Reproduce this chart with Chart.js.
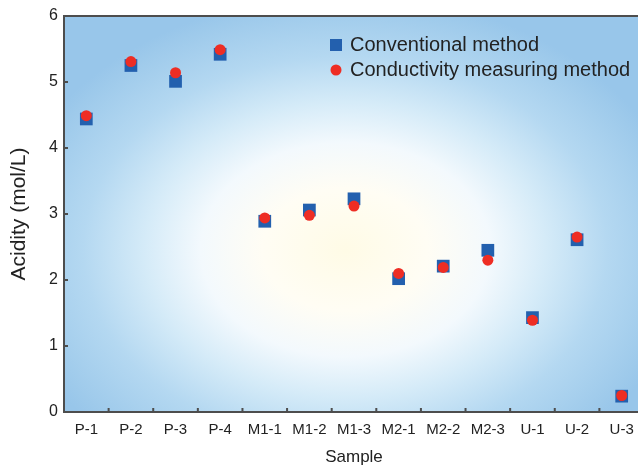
<!DOCTYPE html>
<html>
<head>
<meta charset="utf-8">
<script src="https://cdn.jsdelivr.net/npm/chart.js@4.4.1/dist/chart.umd.min.js"></script>
<style>
  html, body { margin: 0; padding: 0; overflow: hidden; background: #fff; }
</style>
</head>
<body>
<canvas id="chart" width="644" height="469"></canvas>
<script>
const samples = ["P-1", "P-2", "P-3", "P-4", "M1-1", "M1-2", "M1-3", "M2-1", "M2-2", "M2-3", "U-1", "U-2", "U-3"];
const conventional = [4.44, 5.25, 5.01, 5.42, 2.89, 3.06, 3.23, 2.02, 2.21, 2.45, 1.43, 2.61, 0.24];
const conductivity = [4.49, 5.31, 5.14, 5.49, 2.94, 2.98, 3.12, 2.10, 2.19, 2.30, 1.39, 2.65, 0.25];
const yMin = 0, yMax = 6, yStep = 1;

const FONT = "'Liberation Sans', Arial, Helvetica, sans-serif";
const AXIS = "#4d4d4d";
const TEXT = "#222";

// soft blue fill with a pale, slightly warm centre
const backdrop = {
  id: "backdrop",
  beforeDraw(chart) {
    const { ctx, chartArea: a } = chart;
    const cx = a.left + a.width * 0.485, cy = a.top + a.height * 0.59;
    const rx = 345, ry = 255;
    const stops = [[0, "#fffbe6"], [0.24, "#fffdf4"], [0.42, "#f3f9fd"], [0.58, "#d5ebf8"],
                   [0.76, "#b4d8f1"], [0.95, "#9ecaeb"], [1, "#98c6ea"]];
    ctx.save();
    ctx.beginPath();
    ctx.rect(a.left, a.top, a.width, a.height);
    ctx.clip();
    ctx.translate(cx, cy);
    ctx.scale(1, ry / rx);
    const g = ctx.createRadialGradient(0, 0, 0, 0, 0, rx);
    stops.forEach(s => g.addColorStop(s[0], s[1]));
    ctx.fillStyle = g;
    ctx.fillRect(-800, -800, 1600, 1600);
    ctx.restore();
  }
};

// top frame line and the small inward tick marks
const frame = {
  id: "frame",
  afterDraw(chart) {
    const { ctx, chartArea: a, scales: { x, y } } = chart;
    ctx.save();
    ctx.strokeStyle = AXIS;
    ctx.lineWidth = 2;
    ctx.beginPath();
    ctx.moveTo(a.left - 1, a.top);
    ctx.lineTo(a.right, a.top);
    y.ticks.forEach(t => {
      const py = y.getPixelForValue(t.value);
      ctx.moveTo(a.left, py);
      ctx.lineTo(a.left + 4, py);
    });
    for (let i = 1; i < samples.length; i++) {
      const px = (x.getPixelForValue(i - 1) + x.getPixelForValue(i)) / 2;
      ctx.moveTo(px, a.bottom);
      ctx.lineTo(px, a.bottom - 4);
    }
    ctx.stroke();
    ctx.restore();
  }
};

// legend drawn inside the plot, top right
const keyBox = {
  id: "keyBox",
  afterDraw(chart) {
    const { ctx } = chart;
    const sets = chart.data.datasets;
    ctx.save();
    ctx.font = "20px " + FONT;
    ctx.textBaseline = "middle";
    sets.forEach((ds, i) => {
      const yy = 45 + i * 25;
      ctx.fillStyle = ds.backgroundColor;
      if (ds.pointStyle === "rect") {
        ctx.fillRect(330, yy - 6, 12, 12);
      } else {
        ctx.beginPath();
        ctx.arc(336, yy, 5.5, 0, Math.PI * 2);
        ctx.fill();
      }
      ctx.fillStyle = TEXT;
      ctx.fillText(ds.label, 350, yy);
    });
    ctx.restore();
  }
};

new Chart(document.getElementById("chart"), {
  type: "line",
  data: {
    labels: samples,
    datasets: [
      {
        label: "Conventional method",
        data: conventional,
        showLine: false,
        pointStyle: "rect",
        pointRadius: 9,
        borderWidth: 0,
        backgroundColor: "#2360ae",
        order: 2
      },
      {
        label: "Conductivity measuring method",
        data: conductivity,
        showLine: false,
        pointStyle: "circle",
        pointRadius: 5.5,
        borderWidth: 0,
        backgroundColor: "#ee2d24",
        order: 1
      }
    ]
  },
  options: {
    responsive: false,
    animation: false,
    events: [],
    layout: { autoPadding: false, padding: { top: 16, right: 0, left: 0, bottom: 0 } },
    plugins: {
      legend: { display: false },
      tooltip: { enabled: false }
    },
    scales: {
      x: {
        type: "category",
        offset: true,
        grid: { drawOnChartArea: false, drawTicks: false },
        border: { color: AXIS, width: 2 },
        ticks: {
          color: TEXT, padding: 9, autoSkip: false, maxRotation: 0,
          font: { family: FONT, size: 15 }
        },
        title: {
          display: true, text: "Sample", color: TEXT,
          font: { family: FONT, size: 17 }, padding: { top: 0, bottom: 1 }
        },
        afterFit(s) { s.height = 57; s.paddingLeft = 0; s.paddingRight = 0; }
      },
      y: {
        min: yMin,
        max: yMax,
        grid: { drawOnChartArea: false, drawTicks: false },
        border: { color: AXIS, width: 2 },
        ticks: {
          stepSize: yStep, color: TEXT, padding: 6,
          font: { family: FONT, size: 16 }
        },
        title: {
          display: true, text: "Acidity (mol/L)", color: TEXT,
          font: { family: FONT, size: 21 }, padding: { top: 7, bottom: 0 }
        },
        afterFit(s) { s.width = 64; }
      }
    }
  },
  plugins: [backdrop, frame, keyBox]
});
</script>
</body>
</html>
